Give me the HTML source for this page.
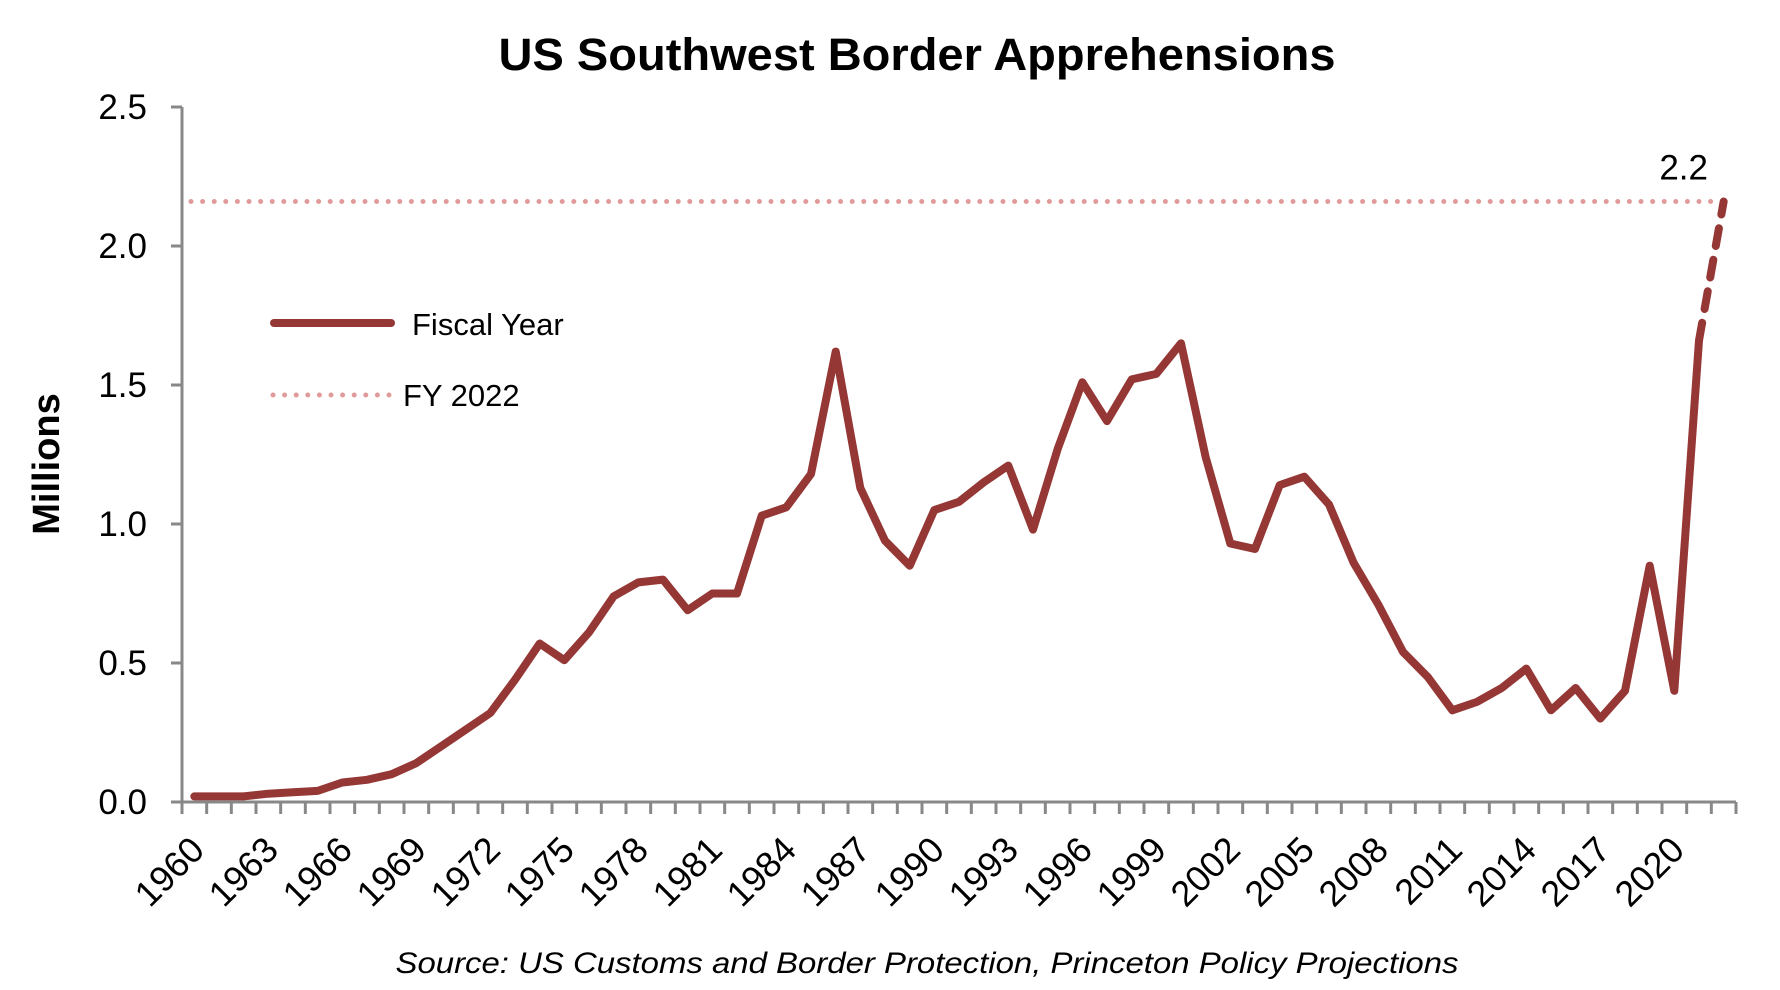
<!DOCTYPE html>
<html><head><meta charset="utf-8"><style>
html,body{margin:0;padding:0;background:#fff;}
svg{display:block;font-family:"Liberation Sans",sans-serif;}
</style></head><body>
<svg id="chart" width="1780" height="990" viewBox="0 0 1780 990" xmlns="http://www.w3.org/2000/svg">
<text x="917" y="70" text-anchor="middle" font-size="45" font-weight="bold" textLength="837" lengthAdjust="spacingAndGlyphs">US Southwest Border Apprehensions</text>
<text transform="translate(59,464) rotate(-90)" text-anchor="middle" font-size="38" font-weight="bold">Millions</text>
<text x="927" y="973" text-anchor="middle" font-size="30" font-style="italic" textLength="1063" lengthAdjust="spacingAndGlyphs">Source: US Customs and Border Protection, Princeton Policy Projections</text>
<g id="axes"></g>
<g id="marks"></g>
<g>
<line x1="274" y1="323" x2="391" y2="323" stroke="#953735" stroke-width="8" stroke-linecap="round"/>
<text x="412" y="335" font-size="31">Fiscal Year</text>
<line x1="273" y1="395" x2="390" y2="395" stroke="#e09a9a" stroke-width="5" stroke-linecap="round" stroke-dasharray="0 11.6"/>
<text x="403" y="406" font-size="31">FY 2022</text>
</g>
</svg>
<script>
const years = [];
for (let y = 1960; y <= 2022; y++) years.push(y);
const fiscalValues = [0.02,0.02,0.02,0.03,0.035,0.04,0.07,0.08,0.10,0.14,0.20,0.26,0.32,0.44,0.57,0.51,0.61,0.74,0.79,0.80,0.69,0.75,0.75,1.03,1.06,1.18,1.62,1.13,0.94,0.85,1.05,1.08,1.15,1.21,0.98,1.27,1.51,1.37,1.52,1.54,1.65,1.24,0.93,0.91,1.14,1.17,1.07,0.86,0.71,0.54,0.45,0.33,0.36,0.41,0.48,0.33,0.41,0.30,0.40,0.85,0.40,1.66];
const projectionValues = [1.66, 2.16];
const fy2022Level = 2.16;
const yTicks = [0,0.5,1.0,1.5,2.0,2.5];
const yTickLabels = ["0.0","0.5","1.0","1.5","2.0","2.5"];
const xLabelYears = [1960,1963,1966,1969,1972,1975,1978,1981,1984,1987,1990,1993,1996,1999,2002,2005,2008,2011,2014,2017,2020];

const NS = "http://www.w3.org/2000/svg";
const X0 = 182, X1 = 1736, Y0 = 802, YT = 107;
const band = (X1 - X0) / years.length;
const xs = yr => X0 + band * (yr - years[0] + 0.5);
const ys = v => Y0 - (v / 2.5) * (Y0 - YT);
function mk(tag, attrs, parent){const e=document.createElementNS(NS,tag);for(const k in attrs)e.setAttribute(k,attrs[k]);parent.appendChild(e);return e;}
const axes = document.getElementById('axes'), marks = document.getElementById('marks');

const yAxis = mk('line',{x1:X0,y1:YT,x2:X0,y2:Y0,stroke:'#888',"stroke-width":3},axes);


const xAxis = mk('line',{x1:X0,y1:Y0,x2:X1,y2:Y0,stroke:'#888',"stroke-width":3},axes);


yTicks.forEach((v,i)=>{
  const t = mk('line',{x1:X0-11,y1:ys(v),x2:X0,y2:ys(v),stroke:'#888',"stroke-width":3},axes);
  
  
  const l = mk('text',{x:147,y:ys(v)+12,"text-anchor":"end","font-size":35},axes);
  
  
  l.textContent = yTickLabels[i];
});
for (let i=0;i<=years.length;i++){
  const x = X0 + band*i;
  const t = mk('line',{x1:x,y1:Y0,x2:x,y2:Y0+12,stroke:'#888',"stroke-width":3},axes);
  
  
}
xLabelYears.forEach(yr=>{
  const x = xs(yr)+12, y = 852;
  const l = mk('text',{x:x,y:y,"text-anchor":"end","font-size":36,transform:`rotate(-45 ${x} ${y})`},axes);
  
  
  l.textContent = yr;
});

const ref = mk('line',{x1:X0+9,y1:ys(fy2022Level),x2:xs(2022),y2:ys(fy2022Level),stroke:'#e09a9a',"stroke-width":5,"stroke-linecap":"round","stroke-dasharray":"0 11.6"},marks);



const pts = fiscalValues.map((v,i)=>`${xs(years[i]).toFixed(1)},${ys(v).toFixed(1)}`).join(' ');
const line = mk('polyline',{points:pts,fill:'none',stroke:'#953735',"stroke-width":8,"stroke-linejoin":"round","stroke-linecap":"round"},marks);



const proj = mk('line',{x1:xs(2021),y1:ys(projectionValues[0]),x2:xs(2022),y2:ys(projectionValues[1]),stroke:'#953735',"stroke-width":8,"stroke-linecap":"round","stroke-dasharray":"18 14"},marks);



const lbl = mk('text',{x:xs(2022)-40,y:ys(fy2022Level)-22,"text-anchor":"middle","font-size":35},marks);


lbl.textContent = fy2022Level.toFixed(1);
</script>
</body></html>
